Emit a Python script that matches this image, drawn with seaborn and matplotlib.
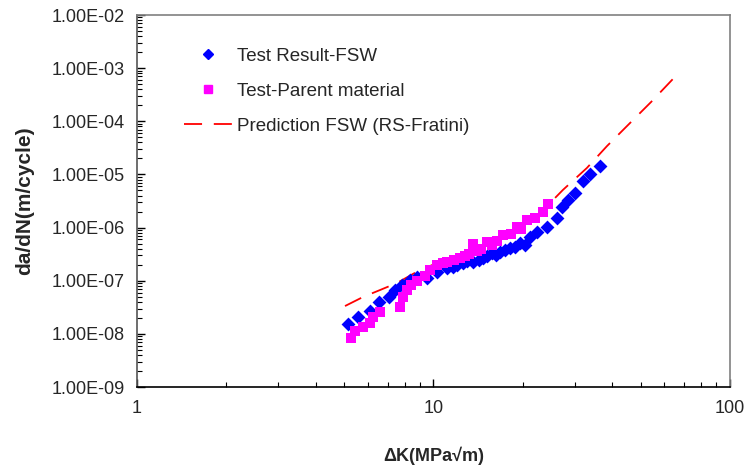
import numpy as np
import pandas as pd
import seaborn as sns
import matplotlib
matplotlib.use('Agg')
import matplotlib.pyplot as plt
from matplotlib.ticker import LogLocator, FuncFormatter, NullFormatter
from matplotlib.lines import Line2D

# Test Result-FSW (blue diamonds)
fsw_dk = [5.15, 5.56, 6.11, 6.55, 7.08, 7.42, 7.83, 8.33, 8.80, 9.51, 10.3, 11.1, 11.6, 12.0,
          12.6, 13.0, 13.6, 14.2, 14.7, 15.2, 15.8, 16.3, 16.8, 17.4, 18.1, 18.8, 19.6, 20.4,
          21.2, 22.3, 24.1, 26.1, 27.1, 28.4, 30.0, 31.9, 33.7, 36.4]
fsw_rate = [1.53e-8, 2.07e-8, 2.69e-8, 3.97e-8, 4.93e-8, 6.68e-8, 8.3e-8, 1.03e-7, 1.17e-7, 1.12e-7,
            1.46e-7, 1.73e-7, 1.81e-7, 2.0e-7, 2.15e-7, 2.4e-7, 2.25e-7, 2.5e-7, 2.67e-7, 2.9e-7,
            3.32e-7, 3.1e-7, 3.47e-7, 3.8e-7, 4.12e-7, 4.4e-7, 5.12e-7, 4.7e-7, 6.64e-7, 8.24e-7,
            1.03e-6, 1.51e-6, 2.44e-6, 3.30e-6, 4.47e-6, 7.52e-6, 1.02e-5, 1.44e-5]

# Test-Parent material (magenta squares)
pm_dk = [5.27, 5.44, 5.78, 6.11, 6.25, 6.60, 7.71, 7.89, 8.14, 8.40, 8.80, 9.36, 9.73, 10.3,
         10.8, 11.1, 11.7, 12.3, 12.8, 13.2, 13.6, 14.0, 14.5, 15.2, 15.8, 16.4, 17.2, 18.2,
         19.1, 19.8, 20.7, 22.0, 23.4, 24.3]
pm_rate = [8.36e-9, 1.13e-8, 1.35e-8, 1.60e-8, 2.07e-8, 2.58e-8, 3.20e-8, 4.93e-8, 6.68e-8, 8.30e-8,
           9.86e-8, 1.23e-7, 1.59e-7, 1.97e-7, 2.15e-7, 2.25e-7, 2.45e-7, 2.67e-7, 2.9e-7, 3.2e-7,
           4.9e-7, 3.6e-7, 3.9e-7, 5.3e-7, 4.8e-7, 5.6e-7, 7.2e-7, 7.6e-7, 1.03e-6, 9.5e-7,
           1.39e-6, 1.51e-6, 1.96e-6, 2.77e-6]

# Prediction FSW (RS-Fratini) (red dashed)
pred_dk = [5.03, 5.78, 6.60, 7.53, 9.00, 10.5, 13.3, 16.8, 20.4, 23.0, 25.3, 27.3, 32.9, 38.5,
           45.3, 54.2, 64.2]
pred_rate = [3.34e-8, 4.93e-8, 6.68e-8, 9.06e-8, 1.59e-7, 2.25e-7, 3.78e-7, 6.37e-7, 1.12e-6,
             1.9e-6, 3.3e-6, 5.09e-6, 1.32e-5, 3.43e-5, 8.51e-5, 2.31e-4, 6.25e-4]

labels = ['Test Result-FSW', 'Test-Parent material', 'Prediction FSW (RS-Fratini)']

sns.set_style('white')
plt.rcParams['font.family'] = ['Liberation Sans', 'DejaVu Sans']

pts = pd.concat([
    pd.DataFrame({'dK': fsw_dk, 'rate': fsw_rate, 'series': labels[0]}),
    pd.DataFrame({'dK': pm_dk, 'rate': pm_rate, 'series': labels[1]}),
])
pred = pd.DataFrame({'dK': pred_dk, 'rate': pred_rate})

fig = plt.figure(figsize=(7.47, 4.69), dpi=100)
ax = fig.add_axes([0.1834, 0.1748, 0.7938, 0.7932])

ax.set_xscale('log')
ax.set_yscale('log')

sns.lineplot(data=pred, x='dK', y='rate', ax=ax, color='#FF0000', linewidth=1.3,
             dashes=False, estimator=None, sort=False, zorder=1)
ax.lines[-1].set_dashes([10, 6.5])

sns.scatterplot(data=pts[pts['series'] == labels[0]], x='dK', y='rate', ax=ax, color='#0000FF',
                marker='D', s=50, linewidth=0, zorder=2, legend=False)
sns.scatterplot(data=pts[pts['series'] == labels[1]], x='dK', y='rate', ax=ax, color='#FF00FF',
                marker='s', s=52, linewidth=0, zorder=3, legend=False)

ax.set_xlim(1, 100)
ax.set_ylim(1e-9, 1e-2)

ax.xaxis.set_major_locator(LogLocator(base=10, numticks=5))
ax.xaxis.set_minor_locator(LogLocator(base=10, subs=np.arange(2, 10), numticks=20))
ax.yaxis.set_major_locator(LogLocator(base=10, numticks=12))
ax.yaxis.set_minor_locator(LogLocator(base=10, subs=np.arange(2, 10), numticks=40))
ax.xaxis.set_major_formatter(FuncFormatter(lambda v, p: f'{v:g}'))
ax.yaxis.set_major_formatter(FuncFormatter(lambda v, p: f'{v:.2E}'))
ax.xaxis.set_minor_formatter(NullFormatter())
ax.yaxis.set_minor_formatter(NullFormatter())

ax.tick_params(which='both', bottom=True, left=True, top=False, right=False)
ax.tick_params(which='major', direction='in', length=6, width=1, color='black',
               labelsize=13, pad=9)
ax.tick_params(which='minor', direction='in', length=3.5, width=0.8, color='black')

for side in ['top', 'right']:
    ax.spines[side].set_color('#808080')
    ax.spines[side].set_linewidth(1.2)
ax.spines['bottom'].set_color('#000000')
ax.spines['bottom'].set_linewidth(1.2)
ax.spines['left'].set_color('#555555')
ax.spines['left'].set_linewidth(1.2)

ax.set_xlabel('ΔK(MPa√m)', fontsize=13, fontweight='bold', labelpad=22)
ax.set_ylabel('da/dN(m/cycle)', fontsize=15, fontweight='bold', labelpad=12)

handles = [
    Line2D([], [], color='#0000FF', marker='D', linestyle='none', markersize=5),
    Line2D([], [], color='#FF00FF', marker='s', linestyle='none', markersize=5.5),
    Line2D([], [], color='#FF0000', linestyle=(0, (10, 6.5)), linewidth=1.3),
]
ax.legend(handles, labels, loc='upper left', bbox_to_anchor=(0.05, 0.958), frameon=False,
          fontsize=13.5, handlelength=2.6, handletextpad=0.25, labelspacing=0.95)

fig.savefig('out.png', dpi=100)
